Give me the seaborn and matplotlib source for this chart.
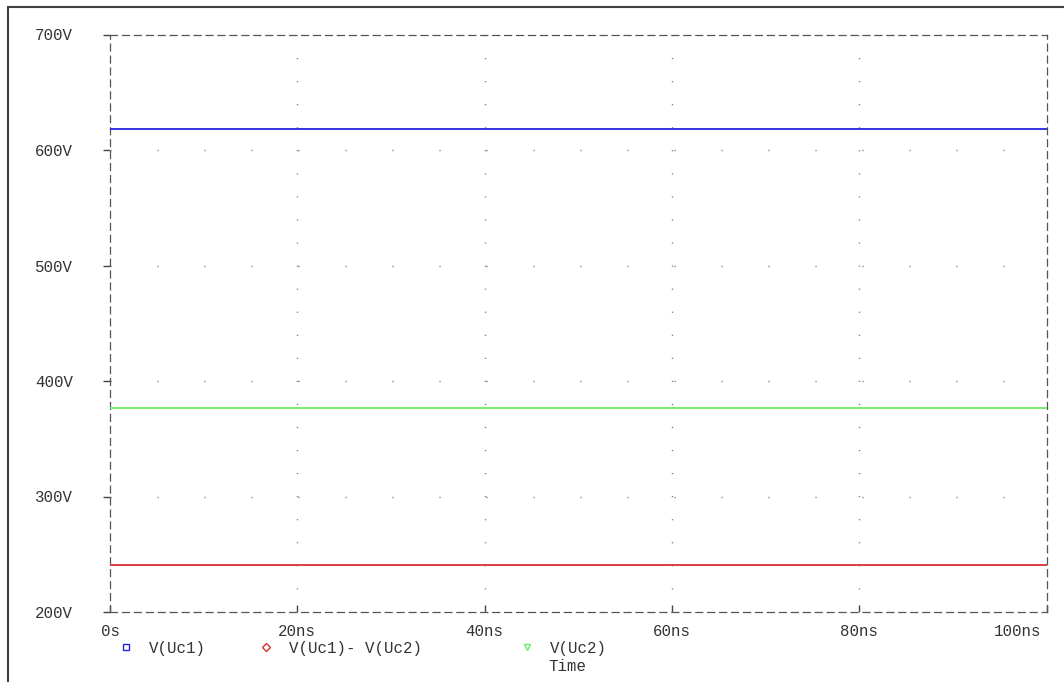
import numpy as np
import pandas as pd
import matplotlib
matplotlib.use("Agg")
import matplotlib.pyplot as plt
from matplotlib.lines import Line2D
from matplotlib.legend import Legend
from matplotlib.transforms import ScaledTranslation
import seaborn as sns

# ---- data ----
time_ns = [0, 20, 40, 60, 80, 100]
v_uc1 = [618, 618, 618, 618, 618, 618]
v_uc2 = [377, 377, 377, 377, 377, 377]
v_diff = [241, 241, 241, 241, 241, 241]
series_names = ["V(Uc1)", "V(Uc1)- V(Uc2)", "V(Uc2)"]
x_ticks = [0, 20, 40, 60, 80, 100]
x_tick_labels = ["0s", "20ns", "40ns", "60ns", "80ns", "100ns"]
y_ticks = [200, 300, 400, 500, 600, 700]
y_tick_labels = ["200V", "300V", "400V", "500V", "600V", "700V"]

colors = {"V(Uc1)": "#2424e0", "V(Uc1)- V(Uc2)": "#d83030", "V(Uc2)": "#66ee66"}
markers = {"V(Uc1)": "s", "V(Uc1)- V(Uc2)": "D", "V(Uc2)": "v"}
marker_sizes = {"V(Uc1)": 5, "V(Uc1)- V(Uc2)": 3.6, "V(Uc2)": 5}

df = pd.DataFrame({
    "Time": time_ns * 3,
    "V": v_uc1 + v_diff + v_uc2,
    "series": [series_names[0]] * len(time_ns) + [series_names[1]] * len(time_ns) + [series_names[2]] * len(time_ns),
})

sns.set_style("white")
plt.rcParams["lines.scale_dashes"] = False
plt.rcParams["font.family"] = ["Liberation Mono", "DejaVu Sans Mono"]

W, H = 1064, 682
fig = plt.figure(figsize=(W / 100, H / 100), dpi=100)
ax = fig.add_axes([110 / W, 1 - 612 / H, (1046.5 - 110) / W, (612 - 34.5) / H])

sns.lineplot(data=df, x="Time", y="V", hue="series", palette=colors, ax=ax,
             legend=False, linewidth=1.3, zorder=3)

ax.set_xlim(0, 100)
ax.set_ylim(200, 700)
ax.set_xticks(x_ticks)
ax.set_xticklabels(x_tick_labels)
ax.set_yticks(y_ticks)
ax.set_yticklabels(y_tick_labels)

txt_color = "#333333"
fs = 11.3
ax.tick_params(axis="y", direction="out", length=5, width=1, color="#444444",
               pad=21.5, labelsize=fs, labelcolor=txt_color, left=True)
ax.tick_params(axis="x", direction="in", length=5, width=1, color="#444444",
               pad=9, labelsize=fs, labelcolor=txt_color, bottom=True)

# shift last x label left like the reference
last = ax.xaxis.get_major_ticks()[-1].label1
last.set_transform(last.get_transform() + ScaledTranslation(-0.29, 0, fig.dpi_scale_trans))

# dashed spines
for s in ax.spines.values():
    s.set_visible(True)
    s.set_color("#555555")
    s.set_linewidth(0.9)
    s.set_linestyle((0, (5, 3.6)))

# dotted grid
ax.grid(False)
for yv in [300, 400, 500, 600]:
    ax.axhline(yv, color="#707070", linewidth=1.0, linestyle=(0, (0.8, 33.04)), zorder=1)
for xv in [20, 40, 60, 80]:
    ax.axvline(xv, color="#707070", linewidth=1.0, linestyle=(0, (0.8, 15.8)), zorder=1)

ax.set_xlabel("Time", fontsize=fs, color=txt_color)
ax.set_ylabel("")
ax.xaxis.set_label_coords((567 - 110) / (1046.5 - 110), (612 - 659) / (612 - 34.5))

# legend entries (three separate legends to match spacing)
legend_x = [110, 250, 511]
for name, lx in zip(series_names, legend_x):
    h = Line2D([], [], marker=markers[name], linestyle="none", markerfacecolor="none",
               markeredgecolor=colors[name], markersize=marker_sizes[name], markeredgewidth=1)
    leg = Legend(ax, [h], [name], loc="center left",
                 bbox_to_anchor=(lx / W, 1 - 648 / H), bbox_transform=fig.transFigure,
                 frameon=False, borderpad=0, handlelength=1.0, handletextpad=1.0,
                 prop={"family": ["Liberation Mono"], "size": fs})
    for t in leg.get_texts():
        t.set_color(txt_color)
    ax.add_artist(leg)

# figure border (top and left)
fig.add_artist(Line2D([8 / W, 8 / W], [0, 1 - 7 / H], transform=fig.transFigure,
                      color="#404040", linewidth=1.5))
fig.add_artist(Line2D([8 / W, 1], [1 - 7 / H, 1 - 7 / H], transform=fig.transFigure,
                      color="#404040", linewidth=1.5))

fig.savefig("out.png", dpi=100, facecolor="white")
